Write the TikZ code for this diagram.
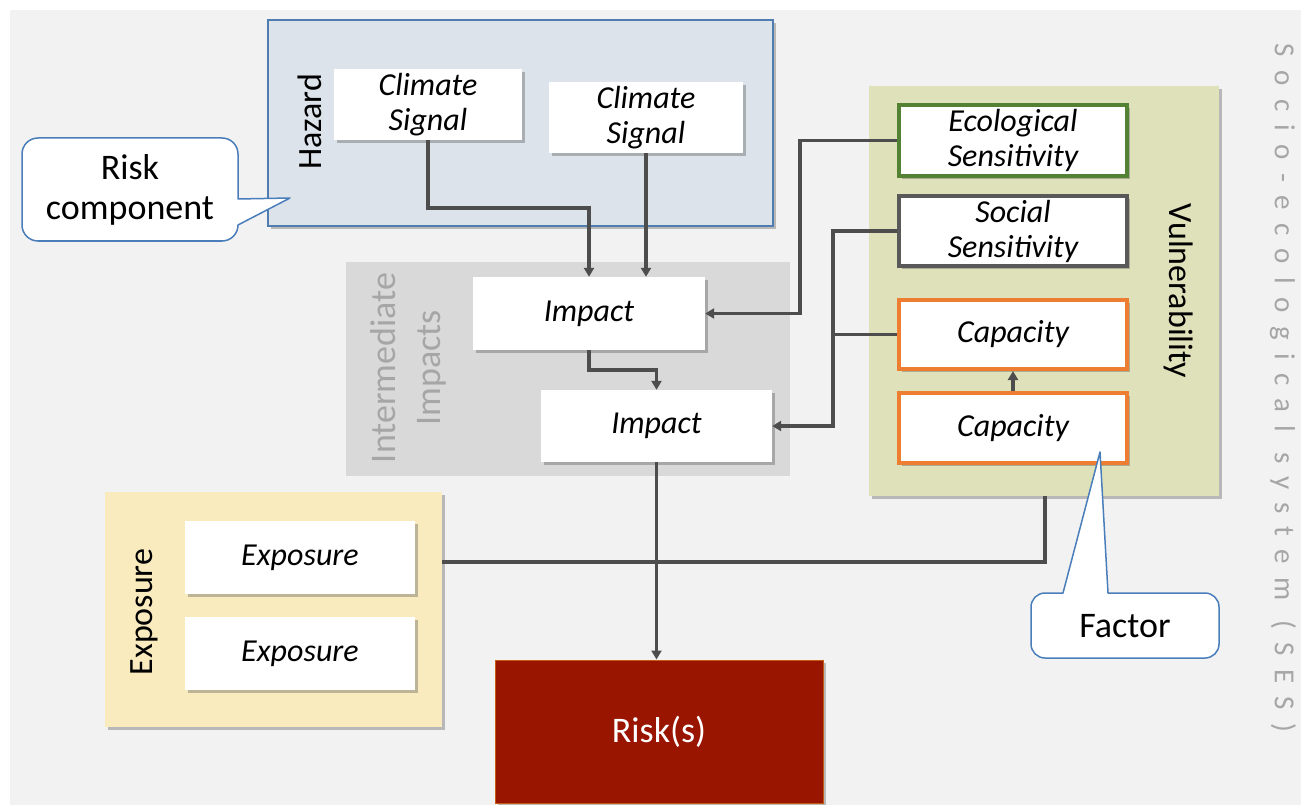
\documentclass[tikz,border=0pt]{standalone}
\usepackage{fontspec}
\setmainfont{Carlito}
\usetikzlibrary{arrows.meta,shadows,calc}

\definecolor{pagebg}{HTML}{F2F2F2}
\definecolor{hazfill}{HTML}{DCE3EB}
\definecolor{hazline}{HTML}{4F7DAF}
\definecolor{intfill}{HTML}{D9D9D9}
\definecolor{vulfill}{HTML}{DFE1BA}
\definecolor{expfill}{HTML}{FAEBBE}
\definecolor{riskfill}{HTML}{991500}
\definecolor{riskline}{HTML}{C55A11}
\definecolor{ecoline}{HTML}{548235}
\definecolor{socline}{HTML}{595959}
\definecolor{capline}{HTML}{ED7D31}
\definecolor{conncol}{HTML}{4D4D4D}
\definecolor{softgray}{HTML}{A6A6A6}
\definecolor{calloutline}{HTML}{4A7EBB}

\tikzset{
  x=1pt, y=-1pt,
  shade/.style={drop shadow={shadow xshift=3pt, shadow yshift=-3pt, opacity=0.35, fill=black!70}},
  group/.style={rectangle, inner sep=0pt, shade},
  item/.style={rectangle, fill=white, inner sep=0pt, align=center, shade,
    font=\fontsize{32}{35}\selectfont\itshape},
  framed/.style={item, draw=#1, line width=4pt},
  label/.style={font=\fontsize{34}{40}\selectfont},
  conn/.style={draw=conncol, line width=3.5pt},
  arr/.style={conn, -{Triangle[length=9pt,width=10pt]}},
  callout/.style={draw=calloutline, fill=white, line width=1.5pt, line join=round},
}

\begin{document}
\begin{tikzpicture}
\useasboundingbox (0,0) rectangle (1301,805);
\fill[pagebg] (10,10) rectangle (1301,805);

% containers
\node[group, fill=hazfill, draw=hazline, line width=1.5pt, minimum width=505, minimum height=206] (haz) at (520.5,123) {};
\node[rectangle, fill=intfill, minimum width=444, minimum height=214] (inter) at (568,369) {};
\node[group, fill=vulfill, minimum width=350, minimum height=410] (vul) at (1044,291) {};
\node[group, fill=expfill, minimum width=337, minimum height=235] (expbox) at (273.5,609.5) {};

% group labels
\node[label, rotate=90] (hazlab) at (310,122) {Hazard};
\node[label, rotate=90, text=softgray, align=center, font=\fontsize{36}{45}\selectfont] (intlab) at (408,368) {Intermediate\\Impacts};
\node[label, rotate=-90] (vullab) at (1179,291) {Vulnerability};
\node[label, rotate=90] (explab) at (144,612) {Exposure};

% factors
\node[item, minimum width=188, minimum height=71] (cs1) at (428,104.5) {Climate\\Signal};
\node[item, minimum width=194, minimum height=71] (cs2) at (646,117.5) {Climate\\Signal};
\node[item, minimum width=232, minimum height=73] (imp1) at (589,313.5) {Impact};
\node[item, minimum width=231, minimum height=72] (imp2) at (656.5,426) {Impact};
\node[framed=ecoline, minimum width=228, minimum height=71] (eco) at (1013,140.5) {Ecological\\Sensitivity};
\node[framed=socline, minimum width=228, minimum height=70] (soc) at (1013,231) {Social\\Sensitivity};
\node[framed=capline, minimum width=228, minimum height=69] (cap1) at (1013,334.5) {Capacity};
\node[framed=capline, minimum width=228, minimum height=70] (cap2) at (1013,428) {Capacity};
\node[item, minimum width=230, minimum height=73] (exp1) at (300,557.5) {Exposure};
\node[item, minimum width=230, minimum height=73] (exp2) at (300,653.5) {Exposure};
\node[rectangle, fill=riskfill, draw=riskline, line width=1pt, shade, minimum width=328, minimum height=143,
  text=white, font=\fontsize{36}{40}\selectfont] (risk) at (659,731.5) {Risk(s)};

% connectors
\coordinate (j1) at (589,208);
\draw[arr] (cs1.south) |- (j1) -- (imp1.north);
\draw[arr] (cs2.south) -- (cs2.south |- imp1.north);
\draw[arr] (eco.west) -| ($(imp1.east)+(95,0)$) -- (imp1.east);
\coordinate (j2) at ($(imp2.east)+(61,0)$);
\draw[arr] (soc.west) -| (j2) -- (imp2.east);
\draw[conn] (cap1.west) -- (cap1.west -| j2);
\draw[arr] (imp1.south) |- ($(imp2.north)+(0,-20)$) -- (imp2.north);
\draw[arr] (cap2.north) -- (cap1.south);
\draw[arr] (imp2.south) -- (imp2.south |- risk.north);
\draw[conn] ($(expbox.north east)+(0,70)$) -| ($(vul.south west)+(176,0)$);

% callouts
\draw[callout] (238,225) [rounded corners=16pt] -- (238,241) -- (22,241) -- (22,138) -- (238,138) [sharp corners] -- (238,199) -- (290,198) -- cycle;
\node[align=center, font=\fontsize{36}{40}\selectfont] (riskcomp) at (130,190) {Risk\\component};
\draw[callout] (1108,593) [rounded corners=14pt] -- (1219,593) -- (1219,658) -- (1031,658) -- (1031,593) [sharp corners] -- (1063,593) -- (1100,452) -- cycle;
\node[font=\fontsize{36}{40}\selectfont] (factor) at (1125,626) {Factor};

% system boundary label
\node[rotate=-90, text=softgray, font=\fontsize{29}{32}\selectfont\addfontfeature{LetterSpace=46}] (ses) at (1283,388) {Socio-ecological system (SES)};
\end{tikzpicture}
\end{document}
